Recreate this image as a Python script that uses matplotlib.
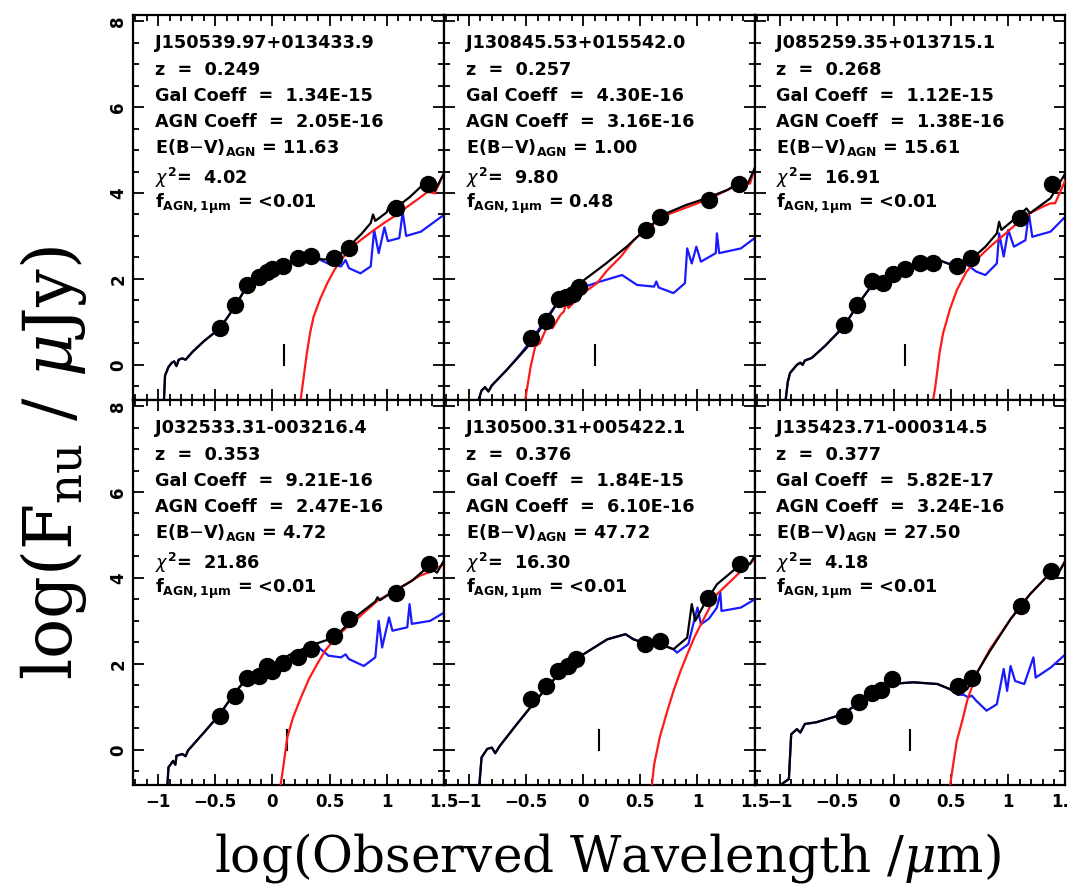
import matplotlib
matplotlib.use('Agg')
import matplotlib.pyplot as plt
from matplotlib.ticker import MultipleLocator
import numpy as np

# ---- panel text ----
names = ['J150539.97+013433.9', 'J130845.53+015542.0', 'J085259.35+013715.1',
         'J032533.31-003216.4', 'J130500.31+005422.1', 'J135423.71-000314.5']
redshift = ['0.249', '0.257', '0.268', '0.353', '0.376', '0.377']
gal_coeff = ['1.34E-15', '4.30E-16', '1.12E-15', '9.21E-16', '1.84E-15', '5.82E-17']
agn_coeff = ['2.05E-16', '3.16E-16', '1.38E-16', '2.47E-16', '6.10E-16', '3.24E-16']
ebv_agn = ['11.63', '1.00', '15.61', '4.72', '47.72', '27.50']
chi2 = ['4.02', '9.80', '16.91', '21.86', '16.30', '4.18']
f_agn = ['<0.01', '0.48', '<0.01', '<0.01', '<0.01', '<0.01']
# rest-frame 1 micron marker (log observed wavelength)
marker_x = [0.10, 0.10, 0.10, 0.13, 0.14, 0.14]

# ---- photometry (log lambda, log Fnu) ----
pts1 = [(-0.46,0.85),(-0.33,1.40),(-0.22,1.86),(-0.12,2.05),(-0.05,2.17),(0.00,2.22),(0.09,2.29),
        (0.22,2.48),(0.34,2.53),(0.54,2.48),(0.67,2.71),(1.08,3.64),(1.36,4.21)]
pts2 = [(-0.46,0.62),(-0.33,1.03),(-0.21,1.53),(-0.15,1.58),(-0.09,1.66),(-0.04,1.82),
        (0.55,3.14),(0.67,3.45),(1.10,3.84),(1.36,4.22)]
pts3 = [(-0.44,0.93),(-0.32,1.40),(-0.19,1.94),(-0.10,1.90),(-0.01,2.11),(0.10,2.22),(0.23,2.36),
        (0.34,2.38),(0.55,2.30),(0.67,2.48),(1.10,3.41),(1.38,4.22)]
pts4 = [(-0.46,0.79),(-0.33,1.26),(-0.22,1.68),(-0.12,1.72),(-0.05,1.95),(0.00,1.84),(0.09,2.03),
        (0.22,2.15),(0.34,2.34),(0.54,2.65),(0.67,3.04),(1.08,3.66),(1.37,4.32)]
pts5 = [(-0.46,1.18),(-0.33,1.49),(-0.22,1.84),(-0.13,1.95),(-0.06,2.11),(0.54,2.46),(0.67,2.53),
        (1.09,3.54),(1.37,4.32)]
pts6 = [(-0.44,0.79),(-0.31,1.10),(-0.19,1.33),(-0.11,1.39),(-0.02,1.64),(0.56,1.49),(0.68,1.68),
        (1.11,3.35),(1.37,4.16)]

# ---- total model (black) ----
tot1 = [(-0.95,-0.85),(-0.94,-0.25),(-0.91,-0.05),(-0.88,0.05),(-0.86,0.08),(-0.84,-0.03),(-0.82,0.12),
        (-0.79,0.15),(-0.76,0.12),(-0.70,0.30),(-0.60,0.55),(-0.46,0.85),(-0.33,1.35),(-0.22,1.85),
        (-0.12,2.02),(0.00,2.20),(0.10,2.30),(0.22,2.45),(0.35,2.50),(0.45,2.45),(0.55,2.50),(0.65,2.70),
        (0.78,3.05),(0.86,3.30),(0.88,3.50),(0.90,3.35),(1.00,3.55),(1.02,3.70),(1.04,3.58),(1.10,3.70),
        (1.20,3.90),(1.30,4.15),(1.37,4.20),(1.42,4.05),(1.50,4.45)]
tot2 = [(-0.92,-0.85),(-0.89,-0.60),(-0.86,-0.52),(-0.83,-0.62),(-0.80,-0.48),(-0.67,-0.12),(-0.56,0.20),
        (-0.46,0.50),(-0.32,1.05),(-0.21,1.51),(-0.03,1.90),(0.20,2.36),(0.38,2.75),(0.54,3.14),(0.73,3.53),
        (0.90,3.72),(1.08,3.88),(1.26,4.07),(1.38,4.26),(1.44,4.22),(1.50,4.57)]
tot3 = [(-0.95,-0.85),(-0.93,-0.40),(-0.91,-0.19),(-0.85,0.00),(-0.82,0.05),(-0.80,0.00),(-0.78,0.10),
        (-0.72,0.16),(-0.60,0.45),(-0.44,0.89),(-0.31,1.43),(-0.18,1.90),(0.00,2.13),(0.23,2.36),(0.35,2.48),
        (0.45,2.38),(0.55,2.29),(0.67,2.44),(0.80,2.75),(0.90,3.06),(0.92,3.33),(0.94,3.14),(1.08,3.45),
        (1.16,3.64),(1.19,3.53),(1.37,3.88),(1.50,4.46)]
tot4 = [(-0.92,-0.85),(-0.91,-0.41),(-0.87,-0.26),(-0.85,-0.35),(-0.84,-0.14),(-0.79,-0.10),(-0.76,-0.15),
        (-0.74,-0.02),(-0.60,0.40),(-0.46,0.83),(-0.34,1.29),(-0.22,1.68),(-0.05,1.91),(0.16,2.22),(0.37,2.46),
        (0.54,2.61),(0.72,3.08),(0.90,3.45),(0.92,3.55),(0.94,3.48),(1.02,3.62),(1.22,3.93),(1.37,4.28),
        (1.44,4.12),(1.50,4.40)]
tot5 = [(-0.91,-0.85),(-0.89,-0.18),(-0.84,0.02),(-0.80,0.05),(-0.77,-0.08),(-0.73,0.09),(-0.58,0.60),
        (-0.44,1.06),(-0.32,1.45),(-0.20,1.80),(0.00,2.22),(0.21,2.57),(0.37,2.69),(0.44,2.57),(0.56,2.46),
        (0.67,2.46),(0.79,2.34),(0.91,2.61),(0.95,3.39),(0.98,3.00),(1.06,3.39),(1.17,3.85),(1.38,4.32),
        (1.46,4.32),(1.50,4.51)]
tot6 = [(-1.01,-0.85),(-0.92,-0.68),(-0.90,0.36),(-0.85,0.48),(-0.82,0.40),(-0.78,0.60),(-0.68,0.64),
        (-0.44,0.83),(-0.31,1.10),(-0.19,1.33),(-0.04,1.53),(0.17,1.57),(0.38,1.53),(0.49,1.41),(0.56,1.28),
        (0.64,1.41),(0.70,1.68),(0.84,2.30),(1.02,3.04),(1.19,3.62),(1.37,4.12),(1.44,4.12),(1.50,4.40)]

# ---- galaxy component (blue) ----
gal1 = tot1[:19] + [(0.42,2.44),(0.51,2.33),(0.60,2.29),(0.64,2.44),(0.67,2.25),(0.77,2.13),(0.86,2.29),
        (0.89,3.14),(0.93,2.60),(0.98,3.20),(1.01,2.88),(1.11,2.95),(1.14,3.55),(1.17,3.00),(1.30,3.10),
        (1.50,3.49)]
gal2 = [(-0.92,-0.85),(-0.89,-0.60),(-0.86,-0.52),(-0.83,-0.62),(-0.80,-0.48),(-0.67,-0.12),(-0.56,0.22),
        (-0.46,0.55),(-0.32,1.10),(-0.21,1.50),(-0.03,1.78),(0.15,1.94),(0.34,2.09),(0.47,1.86),(0.62,1.82),
        (0.64,1.94),(0.66,1.80),(0.79,1.67),(0.89,1.90),(0.91,2.71),(0.95,2.36),(0.99,2.75),(1.03,2.40),
        (1.16,2.60),(1.17,3.06),(1.19,2.60),(1.38,2.71),(1.50,2.95)]
gal3 = tot3[:17] + [(0.64,2.33),(0.72,2.17),(0.80,2.09),(0.90,2.36),(0.92,3.06),(0.96,2.52),(1.00,3.14),
        (1.05,2.75),(1.15,2.90),(1.18,3.53),(1.21,2.98),(1.37,3.10),(1.50,3.45)]
gal4 = tot4[:15] + [(0.49,2.19),(0.60,2.15),(0.64,2.22),(0.67,2.11),(0.80,1.95),(0.90,2.15),(0.93,3.00),
        (0.96,2.38),(1.02,3.08),(1.05,2.77),(1.18,2.85),(1.20,3.39),(1.22,2.93),(1.38,3.00),(1.50,3.19)]
gal5 = tot5[:17] + [(0.82,2.26),(0.92,2.46),(0.97,3.00),(1.00,3.31),(1.03,2.92),(1.10,3.05),(1.17,3.31),
        (1.20,3.66),(1.21,3.23),(1.38,3.31),(1.50,3.50)]
gal6 = tot6[:15] + [(0.61,1.28),(0.65,1.22),(0.68,1.26),(0.72,1.14),(0.81,0.91),(0.90,1.06),(0.96,1.88),
        (0.99,1.37),(1.02,1.95),(1.06,1.60),(1.14,1.53),(1.22,2.15),(1.24,1.68),(1.37,1.91),(1.50,2.22)]

# ---- AGN component (red) ----
red1 = [(0.245,-0.85),(0.27,-0.35),(0.30,0.25),(0.33,0.75),(0.36,1.12),(0.42,1.55),(0.48,1.90),(0.54,2.20),
        (0.60,2.44),(0.68,2.70),(0.77,2.90),(0.87,3.10),(0.97,3.29),(1.08,3.48),(1.18,3.68),(1.28,3.87),
        (1.36,4.03),(1.42,3.99),(1.50,4.46)]
red2 = [(-0.51,-0.85),(-0.46,-0.04),(-0.42,0.43),(-0.38,0.50),(-0.31,0.93),(-0.27,0.85),(-0.20,1.16),
        (-0.17,1.24),(-0.14,1.51),(-0.13,1.32),(0.00,1.67),(0.12,1.90),(0.21,2.20),(0.33,2.52),(0.44,2.90),
        (0.54,3.14),(0.73,3.49),(1.09,3.85),(1.38,4.22),(1.46,4.22),(1.50,4.57)]
red3 = [(0.34,-0.85),(0.36,-0.54),(0.40,0.30),(0.43,0.74),(0.49,1.30),(0.55,1.74),(0.63,2.15),(0.72,2.44),
        (0.84,2.75),(0.96,3.02),(1.08,3.30),(1.19,3.53),(1.30,3.68),(1.37,3.76),(1.41,3.76),(1.50,4.30)]
red4 = [(0.07,-0.85),(0.10,-0.30),(0.13,0.29),(0.18,0.75),(0.25,1.22),(0.32,1.65),(0.39,1.99),(0.46,2.30),
        (0.54,2.57),(0.63,2.80),(0.72,3.00),(0.92,3.47),(1.12,3.78),(1.29,4.05),(1.40,4.16),(1.50,4.32)]
red5 = [(0.60,-0.85),(0.62,-0.35),(0.67,0.29),(0.73,0.85),(0.79,1.37),(0.85,1.82),(0.91,2.22),(0.97,2.60),
        (1.03,2.92),(1.10,3.28),(1.17,3.62),(1.32,4.00),(1.41,4.24),(1.50,4.43)]
red6 = [(0.49,-0.85),(0.52,-0.30),(0.55,0.21),(0.60,0.70),(0.64,1.14),(0.72,1.76),(0.84,2.34),(1.02,3.04),
        (1.19,3.62),(1.37,4.12),(1.44,4.12),(1.50,4.40)]

points = [pts1, pts2, pts3, pts4, pts5, pts6]
totals = [tot1, tot2, tot3, tot4, tot5, tot6]
gals = [gal1, gal2, gal3, gal4, gal5, gal6]
agns = [red1, red2, red3, red4, red5, red6]

fig, axes = plt.subplots(2, 3, figsize=(10.67, 8.9), dpi=100, sharex=True, sharey=True)
fig.subplots_adjust(left=0.1247, right=0.9985, bottom=0.118, top=0.983, wspace=0, hspace=0)

line_y = [0.927, 0.857, 0.790, 0.722, 0.655, 0.577, 0.509]

for i, ax in enumerate(axes.flat):
    g = np.array(gals[i]); a = np.array(agns[i]); t = np.array(totals[i]); p = np.array(points[i])
    ax.plot(g[:, 0], g[:, 1], color='#1a1aff', lw=1.6, zorder=2)
    ax.plot(a[:, 0], a[:, 1], color='#ff1a1a', lw=1.6, zorder=3)
    ax.plot(t[:, 0], t[:, 1], color='black', lw=1.6, zorder=4)
    ax.plot(p[:, 0], p[:, 1], 'o', color='black', ms=11.5, zorder=5)
    ax.plot([marker_x[i], marker_x[i]], [0.0, 0.45], color='black', lw=1.5)

    lines = [names[i], 'z  =  ' + redshift[i], 'Gal Coeff  =  ' + gal_coeff[i],
             'AGN Coeff  =  ' + agn_coeff[i],
             r'E(B$-$V)$_{\mathbf{AGN}}$ = ' + ebv_agn[i],
             r'$\chi^{\mathbf{2}}$=  ' + chi2[i],
             r'f$_{\mathbf{AGN,1\mu m}}$ = ' + f_agn[i]]
    for s, yy in zip(lines, line_y):
        ax.text(0.07, yy, s, transform=ax.transAxes, fontsize=12.7, fontweight='bold',
                va='center', ha='left')

    ax.set_xlim(-1.22, 1.5)
    ax.set_ylim(-0.82, 8.14)
    ax.xaxis.set_major_locator(MultipleLocator(0.5))
    ax.xaxis.set_minor_locator(MultipleLocator(0.1))
    ax.yaxis.set_major_locator(MultipleLocator(2))
    ax.yaxis.set_minor_locator(MultipleLocator(0.5))
    ax.tick_params(which='both', direction='in', top=True, right=True, width=1.3)
    ax.tick_params(which='major', length=8)
    ax.tick_params(which='minor', length=4)
    ax.tick_params(axis='y', labelrotation=90, pad=4)
    ax.tick_params(axis='x', pad=6)
    for sp in ax.spines.values():
        sp.set_linewidth(1.6)

for ax in axes[1]:
    ax.set_xticks([-1, -0.5, 0, 0.5, 1, 1.5])
    ax.set_xticklabels(['\u22121', '\u22120.5', '0', '0.5', '1', '1.5'], fontsize=12, fontweight='bold')
for ax in axes[:, 0]:
    ax.set_yticks([0, 2, 4, 6, 8])
    ax.set_yticklabels(['0', '2', '4', '6', '8'], fontsize=12, fontweight='bold', va='center')

fig.text(0.050, 0.48, r'log(F$_{\rm nu}$ / $\mu$Jy)', rotation=90, ha='center', va='center',
         fontsize=48, family='DejaVu Serif', math_fontfamily='dejavuserif')
fig.text(0.569, 0.036, r'log(Observed Wavelength /$\mu$m)', ha='center', va='center',
         fontsize=36, family='DejaVu Serif', math_fontfamily='dejavuserif')

fig.savefig('out.png', dpi=100)
